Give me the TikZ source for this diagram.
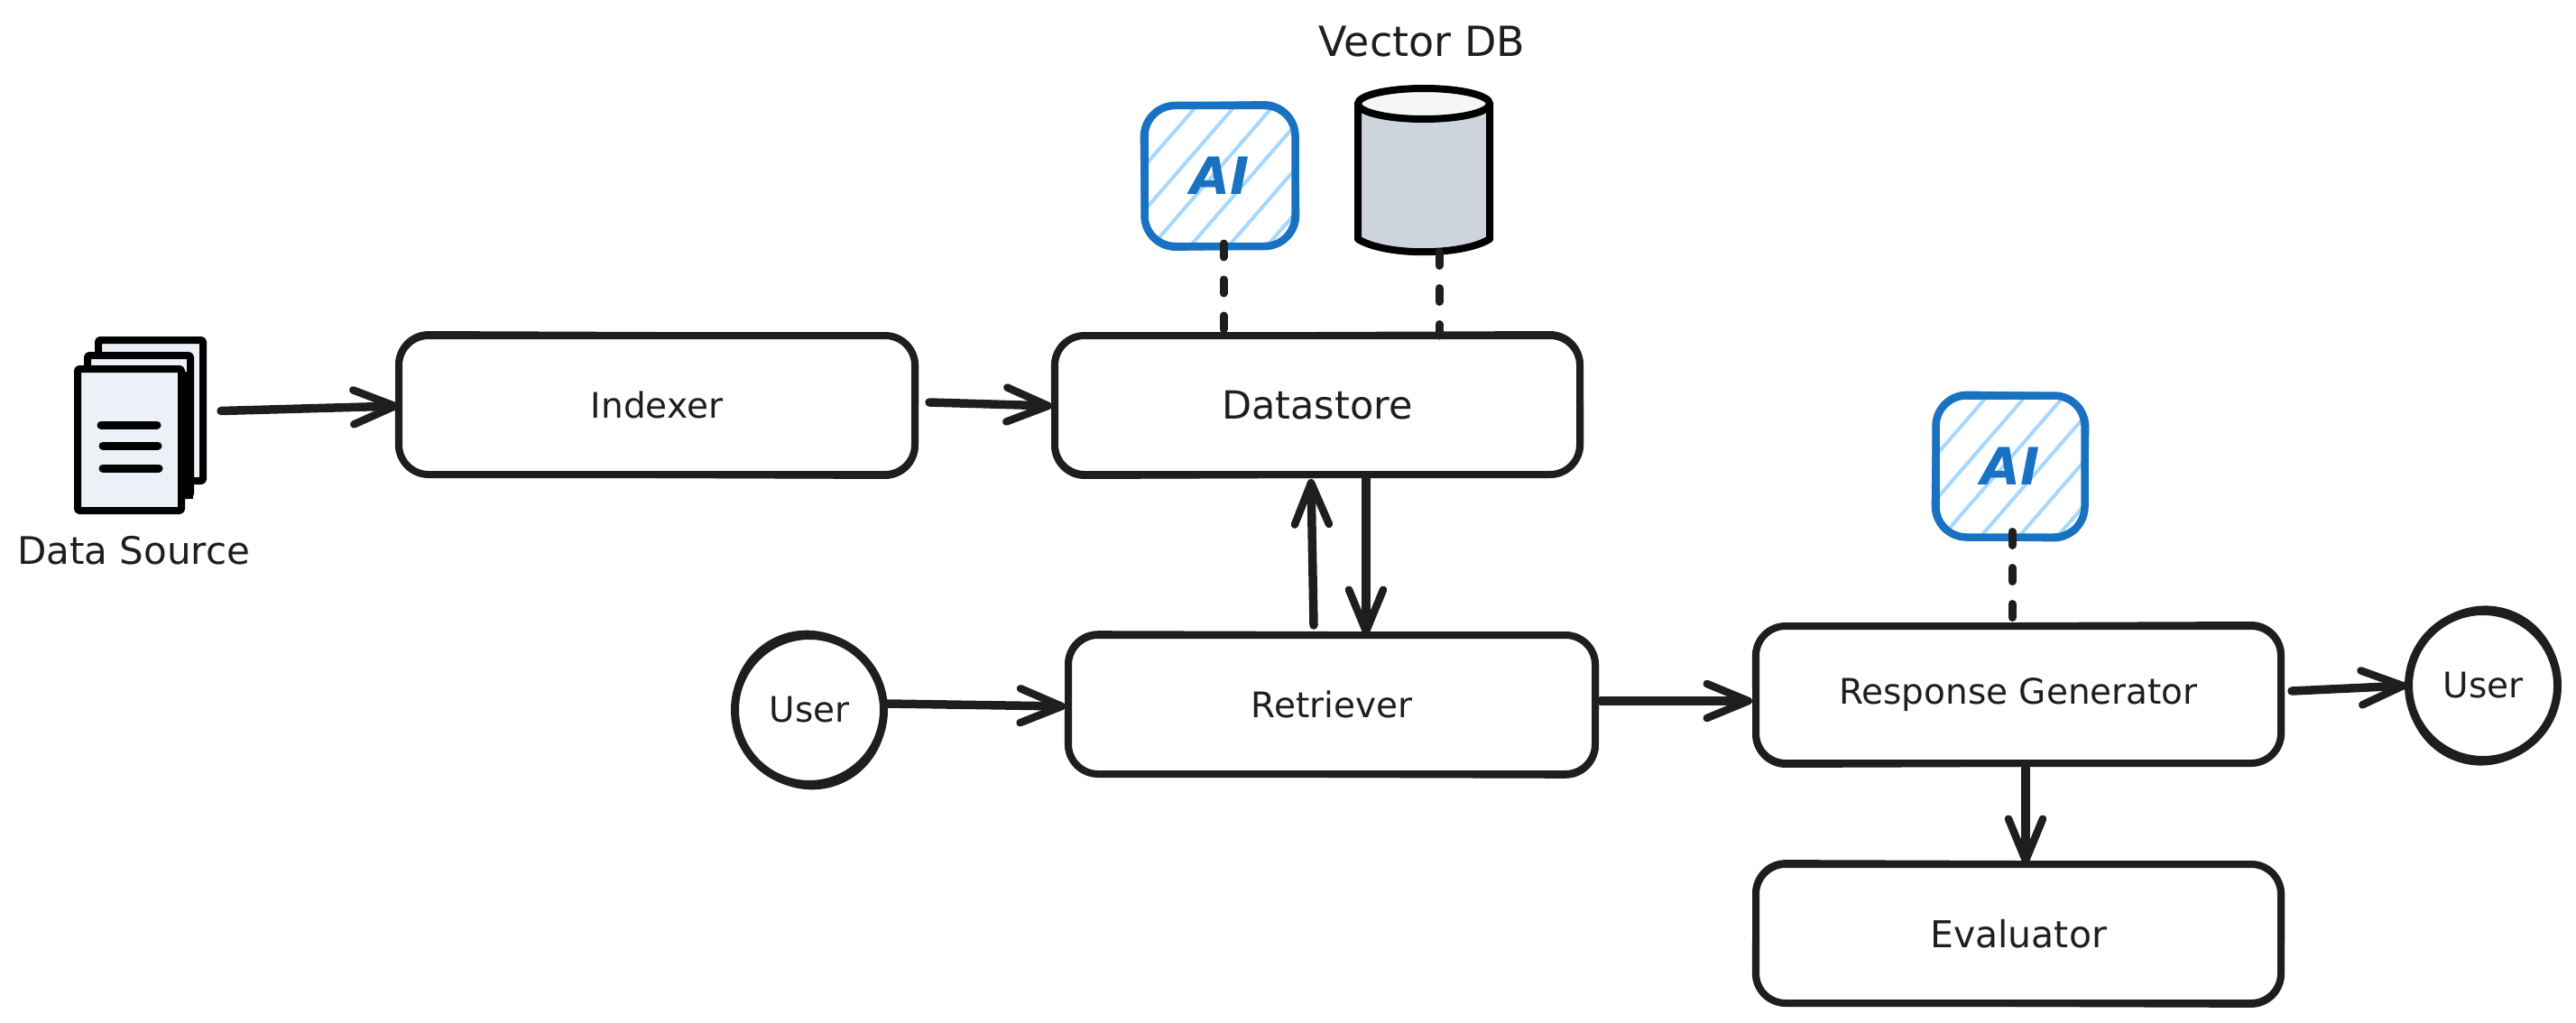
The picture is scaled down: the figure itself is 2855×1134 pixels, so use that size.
\documentclass[tikz,border=0pt]{standalone}
\usepackage{fontspec}
\setmainfont{DejaVu Sans}
\usetikzlibrary{arrows.meta,calc,bending}
\definecolor{ink}{HTML}{1E1E1E}
\definecolor{aiblue}{HTML}{1971C2}
\definecolor{hatchblue}{HTML}{A5D8FF}
\definecolor{docfill}{HTML}{ECF1F8}
\definecolor{cylfill}{HTML}{CED4DC}
\definecolor{cyltop}{HTML}{F5F7F7}
\newcommand{\labelsize}[1]{\fontsize{#1}{#1}\selectfont}
\tikzset{
  x=1pt,y=-1pt,
  every node/.style={inner sep=0pt,outer sep=0pt,text=ink,font=\labelsize{39}},
  box/.style={draw=ink,fill=white,line width=8pt,rounded corners=33pt,minimum height=154pt,
     append after command={\pgfextra{
       \draw[ink,line width=8pt,rounded corners=33pt,transform canvas={rotate around={#1:(\tikzlastnode.center)}}]
         (\tikzlastnode.south west) rectangle (\tikzlastnode.north east);}}},
  box/.default=0.22,
  person/.style={draw=ink,fill=white,circle,line width=9pt,minimum size=165pt,
     append after command={\pgfextra{
       \draw[ink,line width=8pt,transform canvas={rotate around={#1:(\tikzlastnode.center)}}]
         (\tikzlastnode.center) ellipse [x radius=81pt,y radius=85pt];}}},
  person/.default=25,
  page/.style={draw=black,fill=docfill,line width=8pt,line join=round,rounded corners=1.5pt},
  docline/.style={draw=black,line width=9pt,line cap=round},
  flow/.style={draw=ink,line width=9.5pt,line cap=round,
     -{Straight Barb[round,length=46pt,width=38pt,line width=8.5pt]}},
  link/.style={draw=ink,line width=9pt,line cap=round,dash pattern=on 15pt off 25pt},
  aibox/.style={draw=aiblue,fill=white,line width=8.5pt,rounded corners=34pt,text=aiblue,
     font=\labelsize{57}\itshape\bfseries,
     path picture={\foreach \k in {-6,...,6}{
       \draw[hatchblue,line width=4pt,line cap=butt]
         ($(path picture bounding box.center)+(\k*42.5pt-8pt,0pt)+(-130pt,-150pt)$) --
         ($(path picture bounding box.center)+(\k*42.5pt-8pt,0pt)+(130pt,150pt)$);}},
     append after command={\pgfextra{
       \draw[aiblue,line width=8.5pt,rounded corners=34pt,transform canvas={rotate around={#1:(\tikzlastnode.center)}}]
         (\tikzlastnode.south west) rectangle (\tikzlastnode.north east);}}},
  aibox/.default=0.8,
}
\begin{document}
\begin{tikzpicture}
\useasboundingbox (0,0) rectangle (2855,1134);
\fill[white] (0,0) rectangle (2855,1134);

% data source icon
\node[page,minimum width=116pt,minimum height=156pt] (docc) at (167,455) {};
\node[page,minimum width=114pt,minimum height=155pt] (docb) at (154,471.5) {};
\fill[black] (204,412) rectangle (214,553);
\node[page,minimum width=115pt,minimum height=157pt] (doca) at (143.5,487.5) {};
\draw[docline] (112,471) -- (174,471);
\draw[docline] (114,494) -- (175,494);
\draw[docline] (114,519) -- (176,519);
\node[font=\labelsize{42}] (dslabel) at (148,610) {Data Source};

% process boxes
\node[box=-0.22,minimum width=572pt] (indexer) at (728,449) {Indexer};
\node[box,minimum width=582pt,font=\labelsize{43}] (datastore) at (1460,449) {Datastore};
\node[box=-0.18,minimum width=584pt] (retriever) at (1476,781) {Retriever};
\node[box,minimum width=582pt,minimum height=152pt] (generator) at (2237,770) {Response Generator};
\node[box=-0.2,minimum width=582pt,font=\labelsize{41}] (evaluator) at (2237,1035) {Evaluator};

% users
\node[person] (userin) at (897,787) {User};
\node[person=-20] (userout) at (2752,760) {User};

% AI boxes
\node[aibox,minimum width=167pt,minimum height=156pt] (aione) at (1352,195) {AI};
\node[aibox=-0.8,minimum width=165pt,minimum height=157pt] (aitwo) at (2228,517) {AI};

% vector DB
\node[minimum width=147pt,minimum height=175pt] (vdb) at (1578,190) {};
\draw[draw=black,fill=cylfill,line width=8pt,line join=round]
  (1505,115) -- (1505,265) .. controls (1535,284) and (1620,284) .. (1651,265) -- (1651,115) -- cycle;
\draw[draw=black,fill=cyltop,line width=8pt]
  (1578,115) ellipse [x radius=73pt,y radius=17pt];
\node[font=\labelsize{46}] (vdblabel) at (1576,46) {Vector DB};

% dashed links
\draw[link] ([xshift=4pt,yshift=3pt]aione.south) -- ([xshift=4pt]aione.south |- datastore.north);
\draw[link] ([xshift=17pt,yshift=-2pt]vdb.south) -- ([xshift=17pt]vdb.south |- datastore.north);
\draw[link] ([xshift=2pt,yshift=6pt]aitwo.south) -- ([xshift=2pt]aitwo.south |- generator.north);

% flows
\draw[flow] ([xshift=44pt,yshift=32pt]doca.east) -- ([yshift=-1pt]indexer.west);
\draw[flow] ([xshift=16pt,yshift=3pt]indexer.east) -- ([xshift=-3pt,yshift=-1pt]datastore.west);
\draw[flow] ([xshift=-20pt,yshift=11pt]retriever.north) -- ([xshift=-7pt,yshift=-5pt]datastore.south);
\draw[flow] ([xshift=54pt,yshift=-5pt]datastore.south) -- ([xshift=38pt]retriever.north);
\draw[flow] ([xshift=4pt,yshift=7pt]userin.east) -- ([xshift=-3pt,yshift=-2pt]retriever.west);
\draw[flow] ([xshift=6pt,yshift=4pt]retriever.east) -- ([xshift=-4pt,yshift=-7pt]generator.west);
\draw[flow] ([xshift=12pt,yshift=4pt]generator.east) -- ([xshift=-2pt]userout.west);
\draw[flow] ([xshift=8pt,yshift=-2pt]generator.south) -- ([xshift=8pt]evaluator.north);
\end{tikzpicture}
\end{document}
